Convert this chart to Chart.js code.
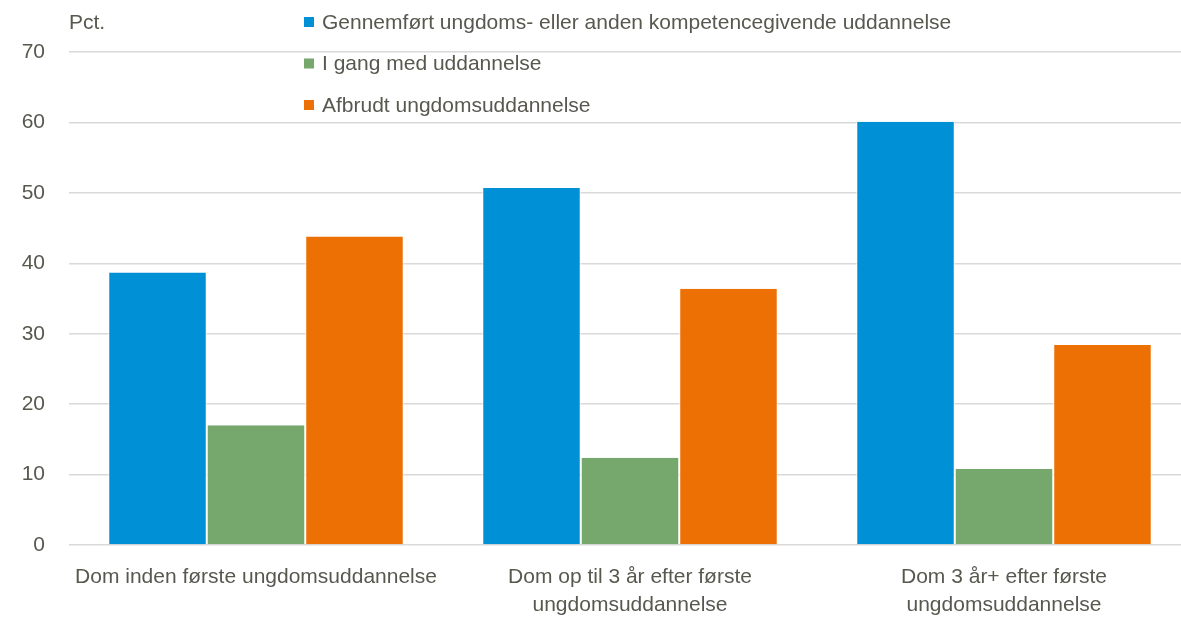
<!DOCTYPE html>
<html><head><meta charset="utf-8">
<script src="https://cdn.jsdelivr.net/npm/chart.js@4"></script>
<style>html,body{margin:0;padding:0;background:#fff;overflow:hidden}#wrap{width:1191px;height:624px}</style>
</head><body><div id="wrap"><canvas id="c"></canvas></div>
<script>
const categories = [
  ["Dom inden første ungdomsuddannelse"],
  ["Dom op til 3 år efter første", "ungdomsuddannelse"],
  ["Dom 3 år+ efter første", "ungdomsuddannelse"]
];
const seriesNames = [
  "Gennemført ungdoms- eller anden kompetencegivende uddannelse",
  "I gang med uddannelse",
  "Afbrudt ungdomsuddannelse"
];
const completed = [38.7, 50.7, 60.1];
const ongoing = [17.0, 12.4, 10.8];
const dropped = [43.8, 36.4, 28.4];
const yTicks = [0, 10, 20, 30, 40, 50, 60, 70];
const unitLabel = "Pct.";

const colors = ["#0090d6", "#76a86e", "#ed7004"];
const FONT = "'Liberation Sans', Arial, sans-serif";
const TXT = "#58584f";

const legendPlugin = {
  id: 'customLegend',
  afterDraw(chart) {
    const ctx = chart.ctx;
    ctx.save();
    ctx.font = "21px " + FONT;
    ctx.textBaseline = 'middle';
    ctx.fillStyle = TXT;
    ctx.textAlign = 'left';
    ctx.fillText(unitLabel, 69, 23);
    chart.data.datasets.forEach((ds, i) => {
      const y = 22 + i * 41.5;
      ctx.fillStyle = ds.backgroundColor;
      ctx.fillRect(304, y - 5, 10, 10);
      ctx.fillStyle = TXT;
      ctx.fillText(ds.label, 322, y + 1);
    });
    ctx.restore();
  }
};

new Chart(document.getElementById('c'), {
  type: 'bar',
  data: {
    labels: categories,
    datasets: [
      {label: seriesNames[0], data: completed, backgroundColor: colors[0]},
      {label: seriesNames[1], data: ongoing, backgroundColor: colors[1]},
      {label: seriesNames[2], data: dropped, backgroundColor: colors[2]}
    ].map(d => Object.assign(d, {borderColor: '#ffffff', borderWidth: {left: 1, right: 1, top: 0, bottom: 0}, borderSkipped: false, categoryPercentage: 0.79, barPercentage: 1.0}))
  },
  options: {
    responsive: true,
    maintainAspectRatio: false,
    animation: false,
    layout: {padding: {top: 52, left: 0, right: 0, bottom: 0}},
    plugins: {legend: {display: false}, tooltip: {enabled: false}},
    scales: {
      x: {
        grid: {display: false, drawTicks: false},
        border: {display: false},
        ticks: {color: TXT, font: {family: FONT, size: 21, lineHeight: 1.3}, padding: 19, maxRotation: 0, autoSkip: false},
        afterFit(s) { s.height = 79; }
      },
      y: {
        min: 0, max: 70,
        afterBuildTicks(s) { s.ticks = yTicks.map(v => ({value: v})); },
        grid: {color: '#d9d9d9', lineWidth: 1.5, drawTicks: false},
        border: {display: false},
        ticks: {color: TXT, font: {family: FONT, size: 21}, padding: 24},
        afterFit(s) { s.width = 69; }
      }
    }
  },
  plugins: [legendPlugin]
});
</script>
</body></html>
